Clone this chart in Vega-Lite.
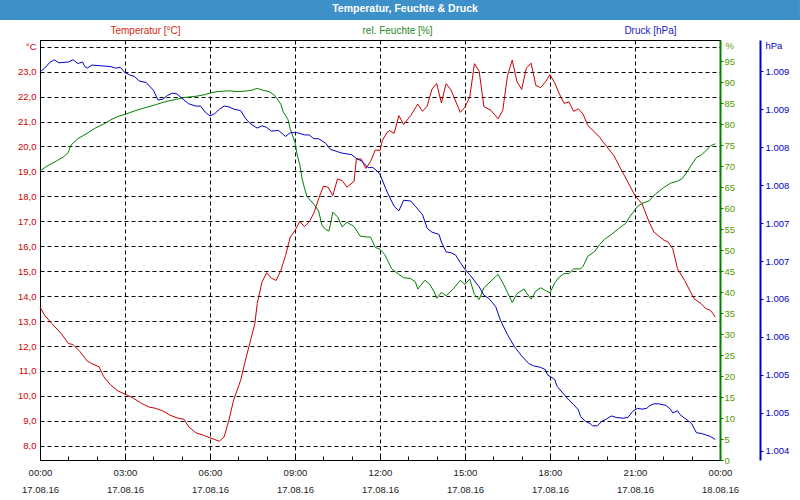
{
  "$schema": "https://vega.github.io/schema/vega-lite/v6.json",
  "padding": 0,
  "background": "white",
  "spacing": 4,
  "config": {"font": "Liberation Sans", "axis": {"labelFont": "Liberation Sans", "titleFont": "Liberation Sans"}},
  "datasets": {
    "temp": [
      {"t": "2016-08-17 00:00", "v": 13.56}, {"t": "2016-08-17 00:10", "v": 13.23}, {"t": "2016-08-17 00:25", "v": 12.90}, {"t": "2016-08-17 00:45", "v": 12.50},
      {"t": "2016-08-17 01:00", "v": 12.10}, {"t": "2016-08-17 01:10", "v": 12.06}, {"t": "2016-08-17 01:25", "v": 11.77}, {"t": "2016-08-17 01:40", "v": 11.40},
      {"t": "2016-08-17 01:50", "v": 11.29}, {"t": "2016-08-17 02:05", "v": 11.17}, {"t": "2016-08-17 02:15", "v": 10.77}, {"t": "2016-08-17 02:30", "v": 10.43},
      {"t": "2016-08-17 02:45", "v": 10.20}, {"t": "2016-08-17 03:00", "v": 10.07}, {"t": "2016-08-17 03:15", "v": 9.94}, {"t": "2016-08-17 03:35", "v": 9.70},
      {"t": "2016-08-17 03:50", "v": 9.56}, {"t": "2016-08-17 04:05", "v": 9.50}, {"t": "2016-08-17 04:20", "v": 9.40}, {"t": "2016-08-17 04:35", "v": 9.23},
      {"t": "2016-08-17 04:50", "v": 9.12}, {"t": "2016-08-17 05:05", "v": 9.06}, {"t": "2016-08-17 05:15", "v": 8.76}, {"t": "2016-08-17 05:30", "v": 8.52},
      {"t": "2016-08-17 05:45", "v": 8.43}, {"t": "2016-08-17 06:00", "v": 8.32}, {"t": "2016-08-17 06:10", "v": 8.25}, {"t": "2016-08-17 06:20", "v": 8.18},
      {"t": "2016-08-17 06:30", "v": 8.36}, {"t": "2016-08-17 06:40", "v": 9.03}, {"t": "2016-08-17 06:50", "v": 9.83}, {"t": "2016-08-17 07:05", "v": 10.63},
      {"t": "2016-08-17 07:15", "v": 11.43}, {"t": "2016-08-17 07:25", "v": 12.16}, {"t": "2016-08-17 07:35", "v": 12.90}, {"t": "2016-08-17 07:40", "v": 13.70},
      {"t": "2016-08-17 07:50", "v": 14.56}, {"t": "2016-08-17 08:00", "v": 14.94}, {"t": "2016-08-17 08:10", "v": 14.72}, {"t": "2016-08-17 08:20", "v": 14.63},
      {"t": "2016-08-17 08:30", "v": 15.03}, {"t": "2016-08-17 08:40", "v": 15.63}, {"t": "2016-08-17 08:50", "v": 16.37}, {"t": "2016-08-17 09:00", "v": 16.63},
      {"t": "2016-08-17 09:10", "v": 16.99}, {"t": "2016-08-17 09:20", "v": 16.79}, {"t": "2016-08-17 09:30", "v": 16.97}, {"t": "2016-08-17 09:40", "v": 17.33},
      {"t": "2016-08-17 09:50", "v": 17.90}, {"t": "2016-08-17 10:00", "v": 18.41}, {"t": "2016-08-17 10:10", "v": 18.37}, {"t": "2016-08-17 10:20", "v": 18.03},
      {"t": "2016-08-17 10:30", "v": 18.70}, {"t": "2016-08-17 10:40", "v": 18.63}, {"t": "2016-08-17 10:50", "v": 18.37}, {"t": "2016-08-17 11:05", "v": 18.60},
      {"t": "2016-08-17 11:10", "v": 19.50}, {"t": "2016-08-17 11:20", "v": 19.50}, {"t": "2016-08-17 11:30", "v": 19.12}, {"t": "2016-08-17 11:40", "v": 19.40},
      {"t": "2016-08-17 11:50", "v": 19.86}, {"t": "2016-08-17 12:00", "v": 19.84}, {"t": "2016-08-17 12:05", "v": 20.24}, {"t": "2016-08-17 12:15", "v": 20.57},
      {"t": "2016-08-17 12:20", "v": 20.64}, {"t": "2016-08-17 12:30", "v": 20.53}, {"t": "2016-08-17 12:40", "v": 21.24}, {"t": "2016-08-17 12:50", "v": 20.88},
      {"t": "2016-08-17 13:05", "v": 21.24}, {"t": "2016-08-17 13:20", "v": 21.70}, {"t": "2016-08-17 13:30", "v": 21.41}, {"t": "2016-08-17 13:40", "v": 21.62},
      {"t": "2016-08-17 13:50", "v": 22.30}, {"t": "2016-08-17 14:00", "v": 22.53}, {"t": "2016-08-17 14:10", "v": 21.75}, {"t": "2016-08-17 14:20", "v": 22.52},
      {"t": "2016-08-17 14:30", "v": 22.28}, {"t": "2016-08-17 14:50", "v": 21.37}, {"t": "2016-08-17 15:00", "v": 21.58}, {"t": "2016-08-17 15:10", "v": 21.98},
      {"t": "2016-08-17 15:20", "v": 23.32}, {"t": "2016-08-17 15:30", "v": 23.02}, {"t": "2016-08-17 15:40", "v": 21.60}, {"t": "2016-08-17 15:55", "v": 21.45},
      {"t": "2016-08-17 16:10", "v": 21.11}, {"t": "2016-08-17 16:20", "v": 21.45}, {"t": "2016-08-17 16:30", "v": 22.85}, {"t": "2016-08-17 16:40", "v": 23.46},
      {"t": "2016-08-17 16:50", "v": 22.60}, {"t": "2016-08-17 17:00", "v": 22.29}, {"t": "2016-08-17 17:10", "v": 23.15}, {"t": "2016-08-17 17:20", "v": 23.34},
      {"t": "2016-08-17 17:30", "v": 22.45}, {"t": "2016-08-17 17:40", "v": 22.36}, {"t": "2016-08-17 17:50", "v": 22.58}, {"t": "2016-08-17 18:00", "v": 22.88},
      {"t": "2016-08-17 18:10", "v": 22.55}, {"t": "2016-08-17 18:20", "v": 22.10}, {"t": "2016-08-17 18:30", "v": 21.73}, {"t": "2016-08-17 18:40", "v": 21.79},
      {"t": "2016-08-17 18:50", "v": 21.41}, {"t": "2016-08-17 19:00", "v": 21.51}, {"t": "2016-08-17 19:10", "v": 21.30}, {"t": "2016-08-17 19:20", "v": 20.84},
      {"t": "2016-08-17 19:35", "v": 20.57}, {"t": "2016-08-17 19:45", "v": 20.37}, {"t": "2016-08-17 20:00", "v": 20.00}, {"t": "2016-08-17 20:15", "v": 19.64},
      {"t": "2016-08-17 20:30", "v": 19.10}, {"t": "2016-08-17 20:45", "v": 18.57}, {"t": "2016-08-17 21:00", "v": 18.03}, {"t": "2016-08-17 21:15", "v": 17.70},
      {"t": "2016-08-17 21:30", "v": 16.97}, {"t": "2016-08-17 21:40", "v": 16.57}, {"t": "2016-08-17 22:00", "v": 16.26}, {"t": "2016-08-17 22:10", "v": 16.17},
      {"t": "2016-08-17 22:20", "v": 15.90}, {"t": "2016-08-17 22:30", "v": 15.10}, {"t": "2016-08-17 22:45", "v": 14.63}, {"t": "2016-08-17 23:05", "v": 13.90},
      {"t": "2016-08-17 23:20", "v": 13.70}, {"t": "2016-08-17 23:30", "v": 13.50}, {"t": "2016-08-17 23:40", "v": 13.43}, {"t": "2016-08-17 23:45", "v": 13.30},
      {"t": "2016-08-17 23:50", "v": 13.16}
    ],
    "hum": [
      {"t": "2016-08-17 00:00", "v": 68.8}, {"t": "2016-08-17 00:15", "v": 70.0}, {"t": "2016-08-17 00:35", "v": 71.2}, {"t": "2016-08-17 00:50", "v": 72.2},
      {"t": "2016-08-17 01:00", "v": 73.2}, {"t": "2016-08-17 01:05", "v": 74.9}, {"t": "2016-08-17 01:20", "v": 76.5}, {"t": "2016-08-17 01:40", "v": 77.8},
      {"t": "2016-08-17 01:55", "v": 78.9}, {"t": "2016-08-17 02:15", "v": 80.0}, {"t": "2016-08-17 02:30", "v": 81.0}, {"t": "2016-08-17 02:45", "v": 81.8},
      {"t": "2016-08-17 03:00", "v": 82.3}, {"t": "2016-08-17 03:20", "v": 83.1}, {"t": "2016-08-17 03:40", "v": 83.8}, {"t": "2016-08-17 04:05", "v": 84.6},
      {"t": "2016-08-17 04:25", "v": 85.3}, {"t": "2016-08-17 04:45", "v": 85.8}, {"t": "2016-08-17 05:05", "v": 86.3}, {"t": "2016-08-17 05:30", "v": 86.6},
      {"t": "2016-08-17 05:50", "v": 87.0}, {"t": "2016-08-17 06:00", "v": 87.4}, {"t": "2016-08-17 06:15", "v": 87.7}, {"t": "2016-08-17 06:40", "v": 87.9},
      {"t": "2016-08-17 07:00", "v": 87.7}, {"t": "2016-08-17 07:20", "v": 87.9}, {"t": "2016-08-17 07:30", "v": 88.1}, {"t": "2016-08-17 07:40", "v": 88.5},
      {"t": "2016-08-17 07:50", "v": 88.1}, {"t": "2016-08-17 08:05", "v": 87.7}, {"t": "2016-08-17 08:15", "v": 87.0}, {"t": "2016-08-17 08:20", "v": 86.3},
      {"t": "2016-08-17 08:30", "v": 84.7}, {"t": "2016-08-17 08:35", "v": 82.9}, {"t": "2016-08-17 08:45", "v": 81.1}, {"t": "2016-08-17 08:50", "v": 78.8},
      {"t": "2016-08-17 09:00", "v": 75.6}, {"t": "2016-08-17 09:05", "v": 72.4}, {"t": "2016-08-17 09:10", "v": 70.4}, {"t": "2016-08-17 09:15", "v": 67.0},
      {"t": "2016-08-17 09:20", "v": 64.8}, {"t": "2016-08-17 09:25", "v": 62.8}, {"t": "2016-08-17 09:40", "v": 60.9}, {"t": "2016-08-17 09:50", "v": 59.3},
      {"t": "2016-08-17 09:57", "v": 55.9}, {"t": "2016-08-17 10:05", "v": 54.9}, {"t": "2016-08-17 10:12", "v": 54.5}, {"t": "2016-08-17 10:20", "v": 59.0},
      {"t": "2016-08-17 10:30", "v": 57.9}, {"t": "2016-08-17 10:40", "v": 55.5}, {"t": "2016-08-17 10:50", "v": 56.6}, {"t": "2016-08-17 11:05", "v": 55.6},
      {"t": "2016-08-17 11:18", "v": 53.3}, {"t": "2016-08-17 11:30", "v": 53.1}, {"t": "2016-08-17 11:40", "v": 53.1}, {"t": "2016-08-17 11:50", "v": 50.6},
      {"t": "2016-08-17 12:00", "v": 50.2}, {"t": "2016-08-17 12:10", "v": 48.9}, {"t": "2016-08-17 12:25", "v": 45.5}, {"t": "2016-08-17 12:40", "v": 44.2},
      {"t": "2016-08-17 12:50", "v": 43.4}, {"t": "2016-08-17 13:05", "v": 43.2}, {"t": "2016-08-17 13:15", "v": 42.4}, {"t": "2016-08-17 13:20", "v": 40.7},
      {"t": "2016-08-17 13:35", "v": 42.8}, {"t": "2016-08-17 13:45", "v": 41.9}, {"t": "2016-08-17 13:55", "v": 40.0}, {"t": "2016-08-17 14:00", "v": 38.5},
      {"t": "2016-08-17 14:10", "v": 39.9}, {"t": "2016-08-17 14:20", "v": 39.1}, {"t": "2016-08-17 14:35", "v": 40.7}, {"t": "2016-08-17 14:50", "v": 42.8},
      {"t": "2016-08-17 15:00", "v": 41.8}, {"t": "2016-08-17 15:10", "v": 43.1}, {"t": "2016-08-17 15:20", "v": 39.4}, {"t": "2016-08-17 15:30", "v": 38.2},
      {"t": "2016-08-17 15:40", "v": 41.0}, {"t": "2016-08-17 15:55", "v": 42.6}, {"t": "2016-08-17 16:10", "v": 44.2}, {"t": "2016-08-17 16:20", "v": 42.2},
      {"t": "2016-08-17 16:30", "v": 39.9}, {"t": "2016-08-17 16:40", "v": 37.5}, {"t": "2016-08-17 16:50", "v": 39.6}, {"t": "2016-08-17 17:05", "v": 40.7},
      {"t": "2016-08-17 17:10", "v": 39.8}, {"t": "2016-08-17 17:20", "v": 38.3}, {"t": "2016-08-17 17:30", "v": 40.2}, {"t": "2016-08-17 17:40", "v": 41.0},
      {"t": "2016-08-17 17:50", "v": 40.4}, {"t": "2016-08-17 18:00", "v": 39.8}, {"t": "2016-08-17 18:10", "v": 42.2}, {"t": "2016-08-17 18:20", "v": 43.6},
      {"t": "2016-08-17 18:30", "v": 44.4}, {"t": "2016-08-17 18:40", "v": 44.4}, {"t": "2016-08-17 18:50", "v": 45.5}, {"t": "2016-08-17 19:05", "v": 45.5},
      {"t": "2016-08-17 19:10", "v": 46.1}, {"t": "2016-08-17 19:20", "v": 48.5}, {"t": "2016-08-17 19:35", "v": 49.7}, {"t": "2016-08-17 19:45", "v": 51.3},
      {"t": "2016-08-17 19:55", "v": 52.5}, {"t": "2016-08-17 20:10", "v": 53.7}, {"t": "2016-08-17 20:25", "v": 55.1}, {"t": "2016-08-17 20:40", "v": 56.3},
      {"t": "2016-08-17 20:50", "v": 58.1}, {"t": "2016-08-17 21:05", "v": 60.3}, {"t": "2016-08-17 21:15", "v": 61.1}, {"t": "2016-08-17 21:30", "v": 61.7},
      {"t": "2016-08-17 21:40", "v": 63.0}, {"t": "2016-08-17 22:00", "v": 64.8}, {"t": "2016-08-17 22:15", "v": 65.9}, {"t": "2016-08-17 22:30", "v": 66.4},
      {"t": "2016-08-17 22:40", "v": 67.0}, {"t": "2016-08-17 22:50", "v": 68.6}, {"t": "2016-08-17 23:10", "v": 72.0}, {"t": "2016-08-17 23:20", "v": 72.6},
      {"t": "2016-08-17 23:30", "v": 73.6}, {"t": "2016-08-17 23:40", "v": 74.8}, {"t": "2016-08-17 23:50", "v": 75.3}
    ],
    "pres": [
      {"t": "2016-08-17 00:00", "v": 1008.99}, {"t": "2016-08-17 00:10", "v": 1009.04}, {"t": "2016-08-17 00:20", "v": 1009.11}, {"t": "2016-08-17 00:30", "v": 1009.15},
      {"t": "2016-08-17 00:40", "v": 1009.11}, {"t": "2016-08-17 01:00", "v": 1009.12}, {"t": "2016-08-17 01:10", "v": 1009.15}, {"t": "2016-08-17 01:20", "v": 1009.10},
      {"t": "2016-08-17 01:30", "v": 1009.12}, {"t": "2016-08-17 01:35", "v": 1009.06}, {"t": "2016-08-17 01:40", "v": 1009.04}, {"t": "2016-08-17 01:50", "v": 1009.08},
      {"t": "2016-08-17 02:10", "v": 1009.07}, {"t": "2016-08-17 02:30", "v": 1009.06}, {"t": "2016-08-17 02:40", "v": 1009.04}, {"t": "2016-08-17 02:50", "v": 1009.05},
      {"t": "2016-08-17 03:00", "v": 1008.98}, {"t": "2016-08-17 03:10", "v": 1008.95}, {"t": "2016-08-17 03:20", "v": 1008.93}, {"t": "2016-08-17 03:30", "v": 1008.87},
      {"t": "2016-08-17 03:45", "v": 1008.85}, {"t": "2016-08-17 04:00", "v": 1008.75}, {"t": "2016-08-17 04:10", "v": 1008.62}, {"t": "2016-08-17 04:20", "v": 1008.63},
      {"t": "2016-08-17 04:30", "v": 1008.68}, {"t": "2016-08-17 04:40", "v": 1008.71}, {"t": "2016-08-17 04:50", "v": 1008.70}, {"t": "2016-08-17 05:05", "v": 1008.62},
      {"t": "2016-08-17 05:15", "v": 1008.57}, {"t": "2016-08-17 05:30", "v": 1008.54}, {"t": "2016-08-17 05:40", "v": 1008.54}, {"t": "2016-08-17 05:50", "v": 1008.46},
      {"t": "2016-08-17 06:00", "v": 1008.41}, {"t": "2016-08-17 06:10", "v": 1008.44}, {"t": "2016-08-17 06:20", "v": 1008.50}, {"t": "2016-08-17 06:30", "v": 1008.54},
      {"t": "2016-08-17 06:40", "v": 1008.53}, {"t": "2016-08-17 06:50", "v": 1008.50}, {"t": "2016-08-17 07:05", "v": 1008.48}, {"t": "2016-08-17 07:15", "v": 1008.38},
      {"t": "2016-08-17 07:25", "v": 1008.31}, {"t": "2016-08-17 07:40", "v": 1008.25}, {"t": "2016-08-17 07:50", "v": 1008.28}, {"t": "2016-08-17 08:00", "v": 1008.26},
      {"t": "2016-08-17 08:10", "v": 1008.21}, {"t": "2016-08-17 08:25", "v": 1008.22}, {"t": "2016-08-17 08:40", "v": 1008.14}, {"t": "2016-08-17 08:50", "v": 1008.19},
      {"t": "2016-08-17 09:05", "v": 1008.19}, {"t": "2016-08-17 09:20", "v": 1008.16}, {"t": "2016-08-17 09:30", "v": 1008.16}, {"t": "2016-08-17 09:40", "v": 1008.11},
      {"t": "2016-08-17 09:50", "v": 1008.11}, {"t": "2016-08-17 10:05", "v": 1008.05}, {"t": "2016-08-17 10:15", "v": 1007.97}, {"t": "2016-08-17 10:30", "v": 1007.94},
      {"t": "2016-08-17 10:40", "v": 1007.92}, {"t": "2016-08-17 11:00", "v": 1007.90}, {"t": "2016-08-17 11:10", "v": 1007.85}, {"t": "2016-08-17 11:20", "v": 1007.82},
      {"t": "2016-08-17 11:35", "v": 1007.73}, {"t": "2016-08-17 11:45", "v": 1007.73}, {"t": "2016-08-17 11:55", "v": 1007.68}, {"t": "2016-08-17 12:00", "v": 1007.64},
      {"t": "2016-08-17 12:15", "v": 1007.41}, {"t": "2016-08-17 12:30", "v": 1007.22}, {"t": "2016-08-17 12:40", "v": 1007.16}, {"t": "2016-08-17 12:50", "v": 1007.30},
      {"t": "2016-08-17 13:05", "v": 1007.29}, {"t": "2016-08-17 13:15", "v": 1007.22}, {"t": "2016-08-17 13:30", "v": 1007.11}, {"t": "2016-08-17 13:40", "v": 1006.93},
      {"t": "2016-08-17 13:50", "v": 1006.88}, {"t": "2016-08-17 14:05", "v": 1006.85}, {"t": "2016-08-17 14:10", "v": 1006.75}, {"t": "2016-08-17 14:20", "v": 1006.62},
      {"t": "2016-08-17 14:30", "v": 1006.61}, {"t": "2016-08-17 14:40", "v": 1006.58}, {"t": "2016-08-17 14:50", "v": 1006.48}, {"t": "2016-08-17 15:00", "v": 1006.39},
      {"t": "2016-08-17 15:10", "v": 1006.32}, {"t": "2016-08-17 15:30", "v": 1006.16}, {"t": "2016-08-17 15:40", "v": 1006.05}, {"t": "2016-08-17 15:50", "v": 1006.01},
      {"t": "2016-08-17 16:05", "v": 1005.90}, {"t": "2016-08-17 16:15", "v": 1005.72}, {"t": "2016-08-17 16:30", "v": 1005.53}, {"t": "2016-08-17 16:45", "v": 1005.37},
      {"t": "2016-08-17 17:00", "v": 1005.25}, {"t": "2016-08-17 17:15", "v": 1005.15}, {"t": "2016-08-17 17:25", "v": 1005.12}, {"t": "2016-08-17 17:40", "v": 1005.10},
      {"t": "2016-08-17 17:50", "v": 1005.07}, {"t": "2016-08-17 17:55", "v": 1005.00}, {"t": "2016-08-17 18:00", "v": 1004.98}, {"t": "2016-08-17 18:10", "v": 1004.94},
      {"t": "2016-08-17 18:15", "v": 1004.85}, {"t": "2016-08-17 18:30", "v": 1004.74}, {"t": "2016-08-17 18:40", "v": 1004.67}, {"t": "2016-08-17 18:50", "v": 1004.61},
      {"t": "2016-08-17 19:00", "v": 1004.54}, {"t": "2016-08-17 19:05", "v": 1004.45}, {"t": "2016-08-17 19:15", "v": 1004.39}, {"t": "2016-08-17 19:25", "v": 1004.36},
      {"t": "2016-08-17 19:30", "v": 1004.33}, {"t": "2016-08-17 19:40", "v": 1004.33}, {"t": "2016-08-17 19:50", "v": 1004.39}, {"t": "2016-08-17 20:00", "v": 1004.42},
      {"t": "2016-08-17 20:10", "v": 1004.46}, {"t": "2016-08-17 20:20", "v": 1004.44}, {"t": "2016-08-17 20:35", "v": 1004.43}, {"t": "2016-08-17 20:45", "v": 1004.44},
      {"t": "2016-08-17 20:55", "v": 1004.52}, {"t": "2016-08-17 21:05", "v": 1004.56}, {"t": "2016-08-17 21:15", "v": 1004.55}, {"t": "2016-08-17 21:25", "v": 1004.56},
      {"t": "2016-08-17 21:30", "v": 1004.59}, {"t": "2016-08-17 21:40", "v": 1004.62}, {"t": "2016-08-17 21:50", "v": 1004.62}, {"t": "2016-08-17 22:05", "v": 1004.60},
      {"t": "2016-08-17 22:15", "v": 1004.55}, {"t": "2016-08-17 22:20", "v": 1004.50}, {"t": "2016-08-17 22:30", "v": 1004.53}, {"t": "2016-08-17 22:35", "v": 1004.48},
      {"t": "2016-08-17 22:45", "v": 1004.43}, {"t": "2016-08-17 22:50", "v": 1004.41}, {"t": "2016-08-17 23:00", "v": 1004.36}, {"t": "2016-08-17 23:10", "v": 1004.24},
      {"t": "2016-08-17 23:20", "v": 1004.23}, {"t": "2016-08-17 23:30", "v": 1004.21}, {"t": "2016-08-17 23:40", "v": 1004.19}, {"t": "2016-08-17 23:50", "v": 1004.15}
    ]
  },
  "vconcat": [
    {
      "width": 680,
      "height": 20,
      "view": {"stroke": null},
      "data": {"values": [{"label": "Temperatur, Feuchte & Druck"}]},
      "layer": [
        {
          "mark": {"type": "rect", "color": "#3e90c8"},
          "encoding": {
            "x": {"datum": -0.0588, "type": "quantitative", "scale": {"domain": [0, 1], "nice": false, "zero": false}, "axis": null},
            "x2": {"datum": 1.1176},
            "y": {"datum": 0, "type": "quantitative", "scale": {"domain": [0, 1], "nice": false}, "axis": null},
            "y2": {"datum": 1}
          }
        },
        {
          "mark": {"type": "text", "color": "white", "font": "Liberation Sans", "fontSize": 10.5, "fontWeight": "bold", "align": "center", "baseline": "middle", "dy": -1},
          "encoding": {
            "x": {"datum": 0.5368, "type": "quantitative"},
            "text": {"field": "label", "type": "nominal"}
          }
        }
      ]
    },
    {
      "width": 680,
      "height": 420,
      "view": {"stroke": "black", "strokeWidth": 1},
      "layer": [
        {
          "data": {"name": "temp"},
          "mark": {"type": "line", "color": "#cc0000", "strokeWidth": 1},
          "encoding": {
            "x": {
              "field": "t", "type": "temporal",
              "scale": {"domain": [{"year": 2016, "month": 8, "date": 17, "hours": 0}, {"year": 2016, "month": 8, "date": 18, "hours": 0}], "nice": false},
              "axis": {
                "orient": "bottom",
                "values": [
                  {"year": 2016, "month": 8, "date": 17, "hours": 0}, {"year": 2016, "month": 8, "date": 17, "hours": 3},
                  {"year": 2016, "month": 8, "date": 17, "hours": 6}, {"year": 2016, "month": 8, "date": 17, "hours": 9},
                  {"year": 2016, "month": 8, "date": 17, "hours": 12}, {"year": 2016, "month": 8, "date": 17, "hours": 15},
                  {"year": 2016, "month": 8, "date": 17, "hours": 18}, {"year": 2016, "month": 8, "date": 17, "hours": 21},
                  {"year": 2016, "month": 8, "date": 18, "hours": 0}
                ],
                "ticks": false, "domainColor": "black",
                "grid": true, "gridColor": "black", "gridDash": [4, 3],
                "labelExpr": "[timeFormat(datum.value, '%H:%M'), timeFormat(datum.value, '%d.%m.%y')]",
                "labelBaseline": "top", "labelPadding": 7, "labelLineHeight": 17,
                "labelFontSize": 9.5, "labelColor": "#1a1a1a", "labelFlush": false, "labelOverlap": false,
                "title": "Temperatur [°C]", "titleAngle": 0, "titleX": 105, "titleY": -430,
                "titleAlign": "center", "titleBaseline": "middle", "titleColor": "#d42a10",
                "titleFontSize": 10, "titleFontWeight": "normal"
              }
            },
            "y": {
              "field": "v", "type": "quantitative",
              "scale": {"domain": [7.43, 24.27], "nice": false, "zero": false},
              "axis": {
                "orient": "left",
                "values": [8, 9, 10, 11, 12, 13, 14, 15, 16, 17, 18, 19, 20, 21, 22, 23, 24],
                "labelExpr": "datum.value == 24 ? '°C' : replace(format(datum.value, '.1f'), '.', ',')",
                "ticks": false, "domainColor": "black",
                "grid": true, "gridColor": "black", "gridDash": [4, 3],
                "labelColor": "#cc0000", "labelFontSize": 9.5, "labelPadding": 4, "labelBaseline": "middle",
                "labelFlush": false, "labelOverlap": false,
                "title": null
              }
            }
          }
        },
        {
          "data": {"name": "hum"},
          "mark": {"type": "line", "color": "#008000", "strokeWidth": 1},
          "encoding": {
            "x": {
              "field": "t", "type": "temporal",
              "axis": {
                "orient": "bottom", "tickCount": 24,
                "ticks": true, "tickSize": -4, "tickColor": "black",
                "labels": false, "domain": false, "grid": false,
                "title": "rel. Feuchte [%]", "titleAngle": 0, "titleX": 357, "titleY": -430,
                "titleAlign": "center", "titleBaseline": "middle", "titleColor": "#238a23",
                "titleFontSize": 10, "titleFontWeight": "normal"
              }
            },
            "y": {
              "field": "v", "type": "quantitative",
              "scale": {"domain": [0, 100], "nice": false},
              "axis": {
                "orient": "right",
                "values": [0, 5, 10, 15, 20, 25, 30, 35, 40, 45, 50, 55, 60, 65, 70, 75, 80, 85, 90, 95],
                "tickSize": 3, "tickColor": "#008000",
                "domainColor": "#008000", "domainWidth": 2,
                "grid": false,
                "labelColor": "#5a9a00", "labelFontSize": 9.5, "labelPadding": 1, "labelBaseline": "middle",
                "labelFlush": false, "labelOverlap": false,
                "title": "%", "titleAngle": 0, "titleX": 5, "titleY": 5,
                "titleAlign": "left", "titleBaseline": "middle", "titleColor": "#5a9a00",
                "titleFontSize": 9.5, "titleFontWeight": "normal"
              }
            }
          }
        },
        {
          "data": {"name": "pres"},
          "mark": {"type": "line", "color": "#0000cc", "strokeWidth": 1},
          "encoding": {
            "x": {
              "field": "t", "type": "temporal",
              "axis": {
                "orient": "bottom",
                "ticks": false, "labels": false, "domain": false, "grid": false,
                "title": "Druck [hPa]", "titleAngle": 0, "titleX": 610, "titleY": -430,
                "titleAlign": "center", "titleBaseline": "middle", "titleColor": "#1a1acc",
                "titleFontSize": 10, "titleFontWeight": "normal"
              }
            },
            "y": {
              "field": "v", "type": "quantitative",
              "scale": {"domain": [1003.88, 1009.41], "nice": false, "zero": false},
              "axis": {
                "orient": "right", "offset": 40,
                "values": [1004, 1004.5, 1005, 1005.5, 1006, 1006.5, 1007, 1007.5, 1008, 1008.5, 1009],
                "labelExpr": "replace(format(datum.value, ',.0f'), ',', '.')",
                "tickSize": 3, "tickColor": "#0000cc",
                "domainColor": "#0000cc", "domainWidth": 2,
                "grid": false,
                "labelColor": "#0000cc", "labelFontSize": 9.5, "labelPadding": 2, "labelBaseline": "middle",
                "labelFlush": false, "labelOverlap": false,
                "title": "hPa", "titleAngle": 0, "titleX": 5, "titleY": 5,
                "titleAlign": "left", "titleBaseline": "middle", "titleColor": "#0000cc",
                "titleFontSize": 9.5, "titleFontWeight": "normal"
              }
            }
          }
        }
      ],
      "resolve": {"scale": {"y": "independent"}, "axis": {"x": "independent", "y": "independent"}}
    }
  ]
}
